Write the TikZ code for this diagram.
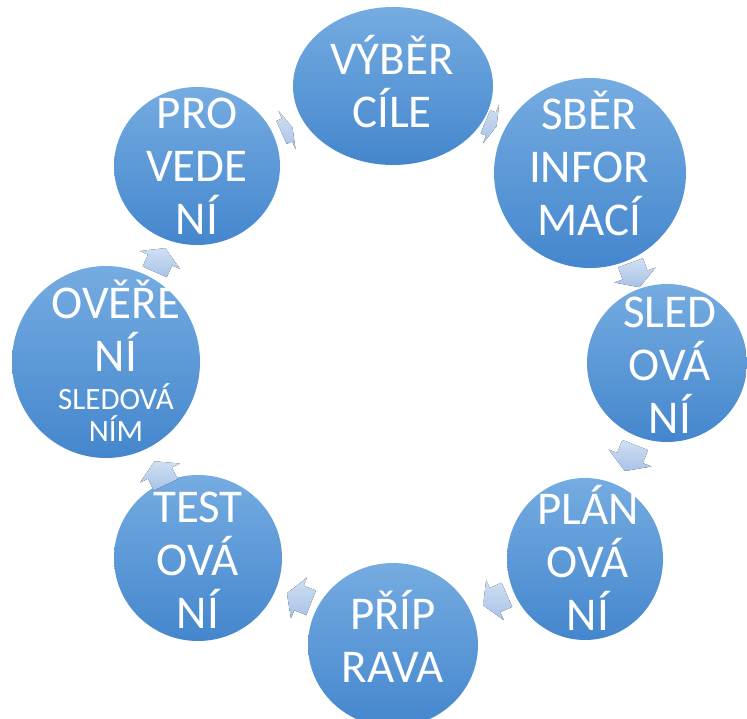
\documentclass[tikz,border=0pt]{standalone}
\usepackage{fontspec}
\setmainfont{Carlito}
\usetikzlibrary{shapes.geometric}
\definecolor{ctop}{RGB}{117,172,225}
\definecolor{cbot}{RGB}{68,134,205}
\definecolor{atop}{RGB}{208,223,243}
\definecolor{abot}{RGB}{168,195,231}
\renewcommand\arraystretch{0}
\newcommand\bigrow[1]{\rule[-11pt]{0pt}{53pt}#1}
\newcommand\smallrow[1]{\rule[-7pt]{0pt}{31pt}#1}
\tikzset{
  bubble/.style={ellipse, inner sep=0pt, draw=none, top color=ctop, bottom color=cbot},
  bigtxt/.style={text=white, inner sep=0pt, font=\fontsize{47}{53}\selectfont},
  smalltxt/.style={text=white, inner sep=0pt, font=\fontsize{31}{31}\selectfont},
  arrowfill/.style={top color=atop, bottom color=abot, draw=none},
  pics/cycarrow/.style n args={2}{code={
    \pgfmathsetmacro\aL{#1}
    \pgfmathsetmacro\aW{#2}
    \pgfmathsetmacro\aH{0.5*min(#1,#2)}
    \fill[arrowfill] (-\aL/2, -0.3*\aW) -- (\aL/2-\aH, -0.3*\aW) -- (\aL/2-\aH, -\aW/2)
      -- (\aL/2, 0) -- (\aL/2-\aH, \aW/2) -- (\aL/2-\aH, 0.3*\aW) -- (-\aL/2, 0.3*\aW) -- cycle;
  }}
}
\begin{document}
\begin{tikzpicture}[x=1pt,y=-1pt]
\useasboundingbox (0,0) rectangle (747,718);
% bubbles
\node[bubble, minimum width=200pt, minimum height=158pt] (c1) at (393,86) {};
\node[bubble, minimum width=192pt, minimum height=190pt] (c2) at (590,173) {};
\node[bubble, minimum width=160pt, minimum height=158pt] (c3) at (667,363) {};
\node[bubble, minimum width=156pt, minimum height=162pt] (c4) at (585,559) {};
\node[bubble, minimum width=170pt, minimum height=164pt] (c5) at (393,645) {};
\node[bubble, minimum width=168pt, minimum height=166pt] (c6) at (198,558) {};
\node[bubble, minimum width=188pt, minimum height=192pt] (c7) at (106,362) {};
\node[bubble, minimum width=166pt, minimum height=158pt] (c8) at (197,166) {};
% texts
\node[bigtxt] (t1) at (392,85) {\begin{tabular}{@{}c@{}}\bigrow{VÝBĚR}\\\bigrow{CÍLE}\end{tabular}};
\node[bigtxt] (t2) at (589,167) {\begin{tabular}{@{}c@{}}\bigrow{SBĚR}\\\bigrow{INFOR}\\\bigrow{MACÍ}\end{tabular}};
\node[bigtxt] (t3) at (670,365) {\begin{tabular}{@{}c@{}}\bigrow{SLED}\\\bigrow{OVÁ}\\\bigrow{NÍ}\end{tabular}};
\node[bigtxt] (t4) at (588,562) {\begin{tabular}{@{}c@{}}\bigrow{PLÁN}\\\bigrow{OVÁ}\\\bigrow{NÍ}\end{tabular}};
\node[bigtxt] (t5) at (393,640) {\begin{tabular}{@{}c@{}}\bigrow{PŘÍP}\\\bigrow{RAVA}\end{tabular}};
\node[bigtxt] (t6) at (198,560) {\begin{tabular}{@{}c@{}}\bigrow{TEST}\\\bigrow{OVÁ}\\\bigrow{NÍ}\end{tabular}};
\node[bigtxt] (t7) at (116,329) {\begin{tabular}{@{}c@{}}\bigrow{OVĚŘE}\\\bigrow{NÍ}\end{tabular}};
\node[smalltxt] (t7s) at (116,416) {\begin{tabular}{@{}c@{}}\smallrow{SLEDOVÁ}\\\smallrow{NÍM}\end{tabular}};
\node[bigtxt] (t8) at (197,166) {\begin{tabular}{@{}c@{}}\bigrow{PRO}\\\bigrow{VEDE}\\\bigrow{NÍ}\end{tabular}};
% cycle arrows
\path (491,124) pic[rotate=-22.6] {cycarrow={12}{42}};
\path (635,275) pic[rotate=-70] {cycarrow={26}{44}};
\path (630,458) pic[rotate=-111.7] {cycarrow={28}{46}};
\path (495,600) pic[rotate=-156.3] {cycarrow={26}{44}};
\path (299,598) pic[rotate=158.6] {cycarrow={26}{44}};
\path (160,473) pic[rotate=115.5] {cycarrow={26}{44}};
\path (160,260) pic[rotate=66] {cycarrow={26}{44}};
\path (287,130) pic[rotate=24] {cycarrow={12}{42}};
\end{tikzpicture}
\end{document}
